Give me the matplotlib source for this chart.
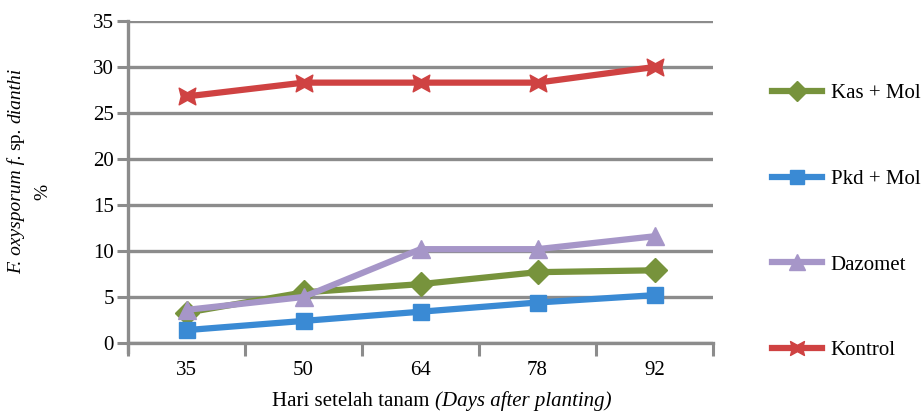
import matplotlib
matplotlib.use("Agg")
import matplotlib.pyplot as plt
from matplotlib.path import Path
from matplotlib.lines import Line2D

days = ["35", "50", "64", "78", "92"]
kas_mol = [3.3, 5.5, 6.4, 7.7, 7.9]
pkd_mol = [1.4, 2.4, 3.4, 4.4, 5.2]
dazomet = [3.6, 5.0, 10.2, 10.2, 11.6]
kontrol = [26.8, 28.3, 28.3, 28.3, 30.0]
y_ticks = [0, 5, 10, 15, 20, 25, 30, 35]

plt.rcParams['font.family'] = ['Liberation Serif', 'DejaVu Serif']

W, H = 921, 416
FS = 15
FS_Y = 14

star_verts = [(-1, 1), (0, 0.45), (1, 1), (0.75, 0), (1, -1), (0, -0.45),
              (-1, -1), (-0.75, 0), (-1, 1)]
star_codes = [Path.MOVETO] + [Path.LINETO] * 7 + [Path.CLOSEPOLY]
star = Path(star_verts, star_codes)

fig = plt.figure(figsize=(W / 100, H / 100), dpi=100)
ax = fig.add_axes([128 / W, 73 / H, 585 / W, 322 / H])

grid_c = '#8c8c8c'
x = [i + 0.5 for i in range(len(days))]

series = [
    ("Kas + Mol", kas_mol, '#77933C', 'D', 12),
    ("Pkd + Mol", pkd_mol, '#3A8AD4', 's', 12),
    ("Dazomet", dazomet, '#A696C8', '^', 13),
    ("Kontrol", kontrol, '#CF4242', star, 12),
]
handles = []
for name, vals, col, mk, ms in series:
    ax.plot(x, vals, color=col, lw=4.5, marker=mk, ms=ms, mec=col, mfc=col,
            zorder=3, solid_capstyle='butt')
    handles.append(Line2D([], [], color=col, lw=4.5, marker=mk, ms=ms - 2,
                          mec=col, mfc=col))

ax.set_xlim(0, 5)
ax.set_ylim(0, 35)
ax.set_yticks(y_ticks)
ax.set_yticklabels([str(v) for v in y_ticks], fontsize=FS)
ax.set_xticks(range(6))
ax.set_xticklabels([])
ax.set_xticks(x, minor=True)
ax.set_xticklabels(days, minor=True, fontsize=FS)
ax.tick_params(axis='x', which='minor', length=0, pad=13)
ax.tick_params(axis='x', which='major', length=9, width=2.2, color=grid_c)
ax.tick_params(axis='y', length=8, width=2.2, color=grid_c, pad=2)

for v in y_ticks:
    ax.axhline(v, color=grid_c, lw=2.4, zorder=1)
for s in ['top', 'right']:
    ax.spines[s].set_visible(False)
ax.spines['left'].set_color(grid_c)
ax.spines['left'].set_linewidth(2.4)
ax.spines['bottom'].set_color(grid_c)
ax.spines['bottom'].set_linewidth(2.4)
ax.spines['left'].set_bounds(-1, 35)

fig.canvas.draw()
renderer = fig.canvas.get_renderer()


def text_width(s, style, fs):
    t = fig.text(0, 0, s, fontsize=fs, style=style)
    w = t.get_window_extent(renderer).width
    t.remove()
    return w


def place_pieces(pieces, cx, cy, vertical, fs):
    # pieces: list of (text, style); a space is inserted between pieces
    space_w = text_width("x x", 'normal', fs) - text_width("xx", 'normal', fs)
    widths = [text_width(p, st, fs) for p, st in pieces]
    total = sum(widths) + space_w * (len(pieces) - 1)
    pos = -total / 2
    for (p, st), w in zip(pieces, widths):
        if vertical:
            fig.text(cx / W, (H - cy + pos) / H, p, fontsize=fs, style=st,
                     rotation=90, ha='center', va='bottom')
        else:
            fig.text((cx + pos) / W, (H - cy) / H, p, fontsize=fs, style=st,
                     ha='left', va='center')
        pos += w + space_w


place_pieces([("Hari setelah tanam", 'normal'), ("(Days after planting)", 'italic')],
             442, 401, vertical=False, fs=FS)
place_pieces([("F. oxysporum f.", 'italic'), ("sp.", 'normal'), ("dianthi", 'italic')],
             16, 171, vertical=True, fs=FS_Y)
fig.text(43 / W, (H - 192) / H, "%", rotation=90, ha='center', va='center', fontsize=FS_Y)

fig.legend(handles, [s[0] for s in series], loc='upper left',
           bbox_to_anchor=(753 / W, 1 - 65 / H), frameon=False, fontsize=FS,
           handlelength=2.4, handletextpad=0.43, labelspacing=3.17)

fig.savefig("out.png", dpi=100)
